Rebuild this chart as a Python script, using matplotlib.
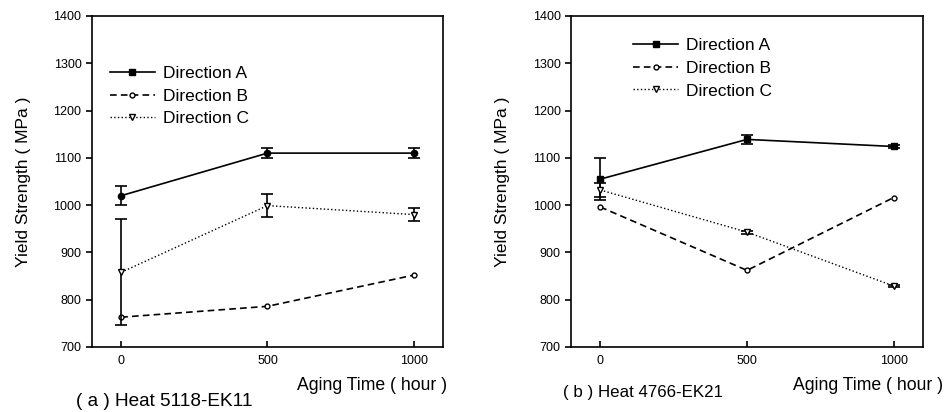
import matplotlib.pyplot as plt
from matplotlib.lines import Line2D
import numpy as np

plt.rcParams['font.family'] = ['Liberation Sans', 'DejaVu Sans']

t = [0, 500, 1000]

# (a) Heat 5118-EK11
a_A = [1020, 1110, 1110]
a_A_err = [20, 10, 10]
a_B = [763, 786, 852]
a_C = [858, 999, 980]
a_C_err = [112, 24, 14]

# (b) Heat 4766-EK21
b_A = [1055, 1139, 1124]
b_A_err = [45, 10, 4]
b_B = [996, 862, 1016]
b_C = [1032, 943, 829]
b_C_err = [14, 3, 3]

fig = plt.figure(figsize=(9.49, 4.12), dpi=100)
ax1 = fig.add_axes([0.0969, 0.1578, 0.3699, 0.8034])
ax2 = fig.add_axes([0.6017, 0.1578, 0.3709, 0.8034])

dashB = (0, (4, 2.5))


def panel(ax, A, Aerr, B, C, Cerr, mA, leg_anchor):
    ax.errorbar(t, A, yerr=Aerr, color='k', lw=1.2, marker=mA, ms=4.5,
                mfc='k', capsize=4, elinewidth=1.2, capthick=1.2)
    ax.plot(t, B, color='k', lw=1.2, ls=dashB, marker='o', ms=3.5, mfc='white')
    ax.errorbar(t, C, yerr=Cerr, color='k', lw=1.0, ls=':', marker='v', ms=5,
                mfc='white', capsize=4, elinewidth=1.2, capthick=1.2)
    ax.set_xlim(-100, 1100)
    ax.set_ylim(700, 1400)
    ax.set_xticks([0, 500, 1000])
    ax.set_yticks(np.arange(700, 1401, 100))
    ax.tick_params(axis='y', direction='out', labelsize=9, length=4, width=1.2)
    ax.tick_params(axis='x', direction='in', labelsize=9, length=4, width=1.2, pad=6)
    for s in ax.spines.values():
        s.set_linewidth(1.2)
    ax.set_ylabel('Yield Strength ( MPa )', fontsize=12.5, labelpad=16)
    handles = [
        Line2D([], [], color='k', lw=1.2, marker='s', ms=4, mfc='k'),
        Line2D([], [], color='k', lw=1.2, ls=dashB, marker='o', ms=3.5, mfc='white'),
        Line2D([], [], color='k', lw=1.0, ls=':', marker='v', ms=5, mfc='white'),
    ]
    ax.legend(handles, ['Direction A', 'Direction B', 'Direction C'],
              loc='upper left', bbox_to_anchor=leg_anchor, frameon=False,
              fontsize=12.5, handlelength=2.6, handletextpad=0.45,
              labelspacing=0.44, borderpad=0, borderaxespad=0)


panel(ax1, a_A, a_A_err, a_B, a_C, a_C_err, 'o', (0.051, 0.85))
panel(ax2, b_A, b_A_err, b_B, b_C, b_C_err, 's', (0.176, 0.934))

fig.text(447 / 949, 1 - 385 / 412, 'Aging Time ( hour )', ha='right', va='center', fontsize=12.7)
fig.text(76 / 949, 1 - 402 / 412, '( a ) Heat 5118-EK11', ha='left', va='center', fontsize=13.7)
fig.text(943 / 949, 1 - 385 / 412, 'Aging Time ( hour )', ha='right', va='center', fontsize=12.7)
fig.text(563 / 949, 1 - 392 / 412, '( b ) Heat 4766-EK21', ha='left', va='center', fontsize=12.2)

fig.savefig('out.png', dpi=100)
